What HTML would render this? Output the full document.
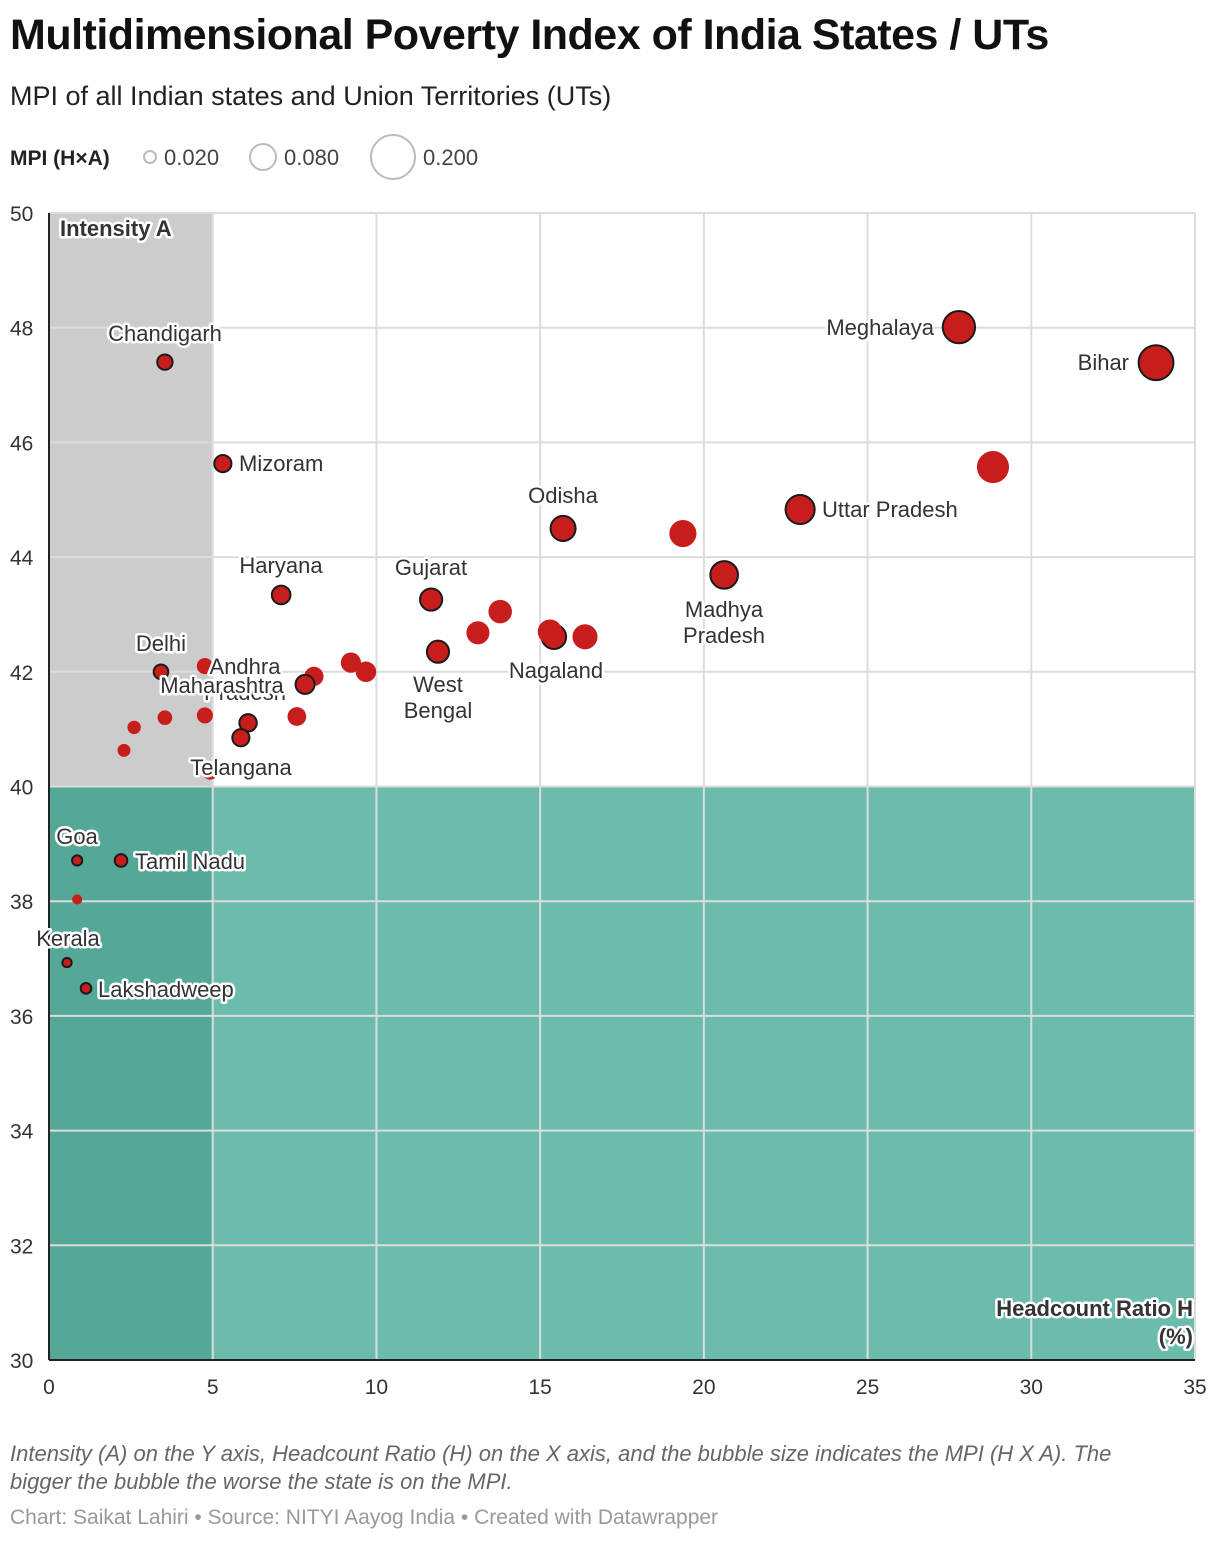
<!DOCTYPE html>
<html><head><meta charset="utf-8">
<style>
body{margin:0;background:#fff;font-family:"Liberation Sans",sans-serif;}
#wrap{position:relative;width:1220px;height:1544px;}
.t{position:absolute;left:10px;}
svg text{font-family:"Liberation Sans",sans-serif;}
.lbl{font-size:22px;fill:#333;stroke:#fff;stroke-width:5px;paint-order:stroke;stroke-linejoin:round;}
</style></head><body>
<div id="wrap">
<div class="t" style="top:11px;font-size:43px;font-weight:bold;color:#111;letter-spacing:-0.5px;">Multidimensional Poverty Index of India States / UTs</div>
<div class="t" style="top:81px;font-size:27px;color:#222;">MPI of all Indian states and Union Territories (UTs)</div>
<svg id="chart" width="1220" height="1544" style="position:absolute;left:0;top:0"></svg>
<div class="t" style="top:1440px;font-size:22px;font-style:italic;color:#666;line-height:28px;width:1165px;">Intensity (A) on the Y axis, Headcount Ratio (H) on the X axis, and the bubble size indicates the MPI (H X A). The bigger the bubble the worse the state is on the MPI.</div>
<div class="t" style="top:1506px;font-size:21px;color:#999;">Chart: Saikat Lahiri • Source: NITYI Aayog India • Created with Datawrapper</div>
</div>
<script>
const names=["Chandigarh","Mizoram","Haryana","Gujarat","Odisha","Delhi","s1","Maharashtra","s2","s3","s4","West Bengal","s5","s6","s7","Nagaland","s8","s9","Madhya Pradesh","Uttar Pradesh","s10","Meghalaya","Bihar","Andhra Pradesh","Telangana","s11","s12","s13","s14","s15","s16","Goa","Tamil Nadu","s17","Kerala","Lakshadweep"];
const headcount=[3.54,5.31,7.09,11.67,15.70,3.42,4.76,7.82,8.09,9.22,9.68,11.88,13.1,13.78,15.3,15.42,16.37,19.36,20.62,22.94,28.83,27.79,33.81,6.08,5.86,7.57,4.76,3.54,2.6,2.29,4.92,0.86,2.2,0.86,0.55,1.13];
const intensity=[47.4,45.63,43.34,43.26,44.5,42.0,42.1,41.78,41.92,42.16,42.0,42.35,42.68,43.05,42.7,42.61,42.61,44.41,43.69,44.83,45.57,48.01,47.39,41.11,40.85,41.22,41.24,41.2,41.03,40.63,40.26,38.71,38.71,38.03,36.93,36.48];
const outlined=[1,1,1,1,1,1,0,1,0,0,0,1,0,0,0,1,0,0,1,1,0,1,1,1,1,0,0,0,0,0,0,1,1,0,1,1];
const xTicks=[0,5,10,15,20,25,30,35];
const yTicks=[30,32,34,36,38,40,42,44,46,48,50];
const legendVals=["0.020","0.080","0.200"];
const labels=[[["Chandigarh"],165,341,"middle"],[["Mizoram"],239,471,"start"],[["Haryana"],281,573,"middle"],[["Gujarat"],431,575,"middle"],[["Odisha"],563,503,"middle"],[["Delhi"],161,651,"middle"],[["Andhra","Pradesh"],245,674,"middle"],[["Maharashtra"],222,693,"middle"],[["West","Bengal"],438,692,"middle"],[["Nagaland"],556,678,"middle"],[["Madhya","Pradesh"],724,617,"middle"],[["Uttar Pradesh"],822,517,"start"],[["Meghalaya"],934,335,"end"],[["Bihar"],1129,370,"end"],[["Telangana"],241,775,"middle"],[["Goa"],77,844,"middle"],[["Tamil Nadu"],135,869,"start"],[["Kerala"],68,946,"middle"],[["Lakshadweep"],98,997,"start"]];
const NS="http://www.w3.org/2000/svg";
const svg=document.getElementById('chart');
const X0=49,X1=1195,Y0=1360,Y1=213;
const xs=v=>X0+(v-0)/35*(X1-X0);
const ys=v=>Y0-(v-30)/20*(Y0-Y1);
function el(t,a,p){const e=document.createElementNS(NS,t);for(const k in a)e.setAttribute(k,a[k]);(p||svg).appendChild(e);return e;}
let lt=el('text',{x:10,y:165,'font-size':21,'font-weight':'bold',fill:'#222'});lt.textContent="MPI (H×A)";


const lr=[6,13,22],lx=[150,263,393];
legendVals.forEach((v,i)=>{const c=el('circle',{cx:lx[i],cy:157,r:lr[i],fill:'none',stroke:'#bbb','stroke-width':2});


const t=el('text',{x:lx[i]+lr[i]+8,y:165,'font-size':22,fill:'#444'});t.textContent=v;

});
let r1=el('rect',{x:X0,y:Y1,width:xs(5)-X0,height:ys(40)-Y1,fill:'#cccccc'});


let r2=el('rect',{x:X0,y:ys(40),width:X1-X0,height:Y0-ys(40),fill:'#6bbcad'});


let r3=el('rect',{x:X0,y:ys(40),width:xs(5)-X0,height:Y0-ys(40),fill:'#55a898'});


xTicks.forEach(v=>{const g=el('line',{x1:xs(v),x2:xs(v),y1:Y1,y2:Y0,stroke:'#dcdcdc','stroke-width':2});


const t=el('text',{x:xs(v),y:1394,'text-anchor':'middle','font-size':21,fill:'#333'});t.textContent=v;

});
yTicks.forEach(v=>{const g=el('line',{x1:X0,x2:X1,y1:ys(v),y2:ys(v),stroke:'#dcdcdc','stroke-width':2});


const t=el('text',{x:10,y:ys(v)+8,'font-size':21,fill:'#333'});t.textContent=v;

});
let ax=el('line',{x1:X0,x2:X0,y1:Y1,y2:Y0,stroke:'#222','stroke-width':2});


let ax2=el('line',{x1:X0,x2:X1,y1:Y0,y2:Y0,stroke:'#222','stroke-width':2});


let yt=el('text',{x:60,y:236,'font-size':22,'font-weight':'bold',class:'lbl'});yt.textContent="Intensity A";


let xt=el('text',{x:1193,y:1316,'font-size':22,'font-weight':'bold','text-anchor':'end',class:'lbl'});


let ts1=el('tspan',{x:1193,y:1316},xt);ts1.textContent="Headcount Ratio H";
let ts2=el('tspan',{x:1193,y:1344},xt);ts2.textContent="(%)";
const idx=headcount.map((_,i)=>i).sort((a,b)=>headcount[b]*intensity[b]-headcount[a]*intensity[a]);
idx.forEach(i=>{const mpi=headcount[i]*intensity[i]/10000;const r=3+36*Math.sqrt(mpi);
const c=el('circle',{cx:xs(headcount[i]),cy:ys(intensity[i]),r:r,fill:'#c71e1d',stroke:outlined[i]?'#1a1a1a':'none','stroke-width':2});

});
labels.forEach(L=>{const t=el('text',{x:L[1],y:L[2],'text-anchor':L[3],class:'lbl'});


L[0].forEach((s,k)=>{const sp=el('tspan',{x:L[1],y:L[2]+k*26},t);sp.textContent=s;});});
</script>
</body></html>
